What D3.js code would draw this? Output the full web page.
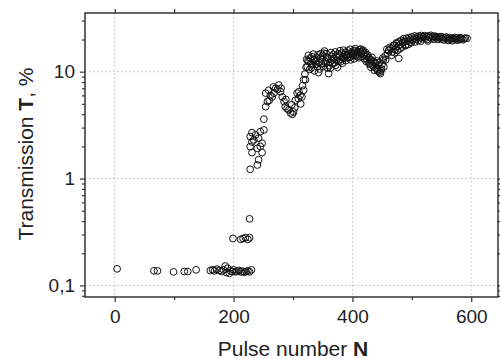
<!DOCTYPE html>
<html>
<head>
<meta charset="utf-8">
<script src="https://cdn.jsdelivr.net/npm/d3@7"></script>
<style>
  body { margin: 0; background: #fff; }
  svg { display: block; font-family: "Liberation Sans", Arial, Helvetica, sans-serif; }
</style>
</head>
<body>
<svg id="chart" width="500" height="359"></svg>
<script>
// [pulse number N, transmission T %]
const baseline = [
  [4, 0.143], [66, 0.137], [72, 0.137], [99, 0.134], [117, 0.135], [123, 0.135], [137, 0.14],
  [161, 0.138], [165, 0.14], [168, 0.137], [172, 0.142], [176, 0.138], [180, 0.135], [183, 0.14],
  [186, 0.152], [188, 0.132], [190, 0.145], [193, 0.13], [195, 0.137], [198, 0.135], [200, 0.14],
  [203, 0.134], [206, 0.136], [209, 0.138], [212, 0.134], [215, 0.136], [218, 0.133], [221, 0.135],
  [224, 0.137], [227, 0.134], [230, 0.14]
];
const jump = [
  [199, 0.275], [212, 0.27], [216, 0.275], [220, 0.28], [224, 0.27], [227, 0.28], [227, 0.42]
];
const rise = [
  [228, 1.22], [240, 1.34], [242, 1.5], [231, 1.75], [248, 1.75], [228, 1.99], [240, 1.92],
  [231, 2.2], [248, 2.14], [228, 2.47], [242, 2.39], [231, 2.69], [245, 2.75], [251, 2.85],
  [237, 2.56], [234, 2.3], [245, 2.0], [251, 3.6]
];
const hump = [
  [254, 4.7], [257, 5.25], [254, 6.3], [259, 6.7], [265, 5.8], [271, 7.0], [276, 7.5], [268, 6.3],
  [279, 6.5], [282, 5.8], [285, 5.25], [287, 4.7], [293, 4.4], [296, 4.1], [301, 4.2], [298, 4.9],
  [304, 5.4], [307, 6.3], [313, 5.0], [310, 6.5], [315, 5.8], [318, 6.7], [262, 6.0], [274, 6.8],
  [290, 4.5], [299, 4.0], [309, 5.6], [321, 8.4], [260, 5.4], [267, 7.2], [280, 7.0], [288, 5.5],
  [303, 4.6], [312, 6.0], [316, 7.4]
];
const band = [
  [318, 8.4], [320, 9.5], [322, 11.0], [324, 11.1], [325, 12.6], [327, 12.4], [328, 10.5], [330, 12.0],
  [332, 13.8], [333, 11.6], [335, 12.8], [336, 10.2], [338, 12.4], [340, 13.5], [341, 11.1], [343, 9.8],
  [344, 12.2], [346, 13.3], [348, 11.8], [350, 14.2], [352, 14.9], [354, 12.5], [355, 12.0], [357, 13.6],
  [358, 10.8], [360, 9.6], [362, 12.2], [363, 10.8], [365, 13.9], [366, 12.9], [368, 14.5], [370, 12.1],
  [372, 11.5], [374, 13.8], [376, 14.6], [377, 12.6], [380, 12.4], [382, 14.9], [384, 13.7], [386, 13.3],
  [388, 15.2], [390, 14.1], [391, 14.3], [393, 15.6], [395, 13.6], [397, 12.9], [399, 15.0], [400, 14.4],
  [402, 14.9], [404, 15.8], [406, 14.2], [408, 13.8], [410, 15.4], [412, 16.0], [413, 15.4], [415, 14.8],
  [417, 15.6], [419, 14.3], [420, 13.2], [422, 15.1], [424, 14.0], [425, 12.9], [427, 13.5], [428, 11.8],
  [430, 12.0], [432, 12.9], [434, 11.5], [436, 11.1], [438, 12.2], [440, 10.8], [442, 10.4], [444, 11.4],
  [446, 9.9], [447, 9.6], [449, 10.6], [450, 11.8], [452, 12.9], [453, 11.1], [455, 14.0], [456, 12.9],
  [458, 16.2], [459, 14.9], [461, 15.8], [463, 16.9], [465, 16.5], [467, 15.3], [469, 17.5], [470, 17.7],
  [472, 16.2], [474, 18.6], [475, 18.4], [477, 17.3], [479, 19.2],
  [466, 14.2], [471, 15.0], [476, 15.8], [478, 13.3], [480, 16.4], [484, 17.0], [489, 17.5], [494, 18.0],
  [499, 18.6], [506, 19.0], [515, 19.3], [527, 19.4]
];
const bandExtra = [
  [323, 13.0], [326, 14.2], [329, 13.4], [331, 10.9], [334, 14.6], [337, 13.1], [339, 11.7], [342, 14.4],
  [345, 10.6], [347, 14.8], [349, 12.9], [351, 11.2], [353, 15.6], [356, 14.7], [359, 13.3], [361, 11.4],
  [364, 15.1], [367, 11.9], [369, 13.4], [371, 15.3], [373, 12.8], [375, 11.0], [378, 14.1], [379, 15.7],
  [381, 13.1], [383, 12.0], [385, 15.9], [387, 14.4], [389, 12.7], [392, 13.5], [394, 14.8], [396, 16.2],
  [398, 13.9], [401, 15.6], [403, 13.2], [405, 16.4], [407, 15.0], [409, 14.6], [411, 13.5], [414, 16.3],
  [416, 13.9], [418, 15.9], [421, 14.6], [423, 12.5], [426, 14.3], [429, 13.0], [431, 11.0], [433, 13.6],
  [435, 12.4], [437, 10.3], [439, 11.9], [441, 12.6], [443, 10.1], [445, 12.2], [448, 10.2], [451, 13.4]
];
const plateau = [
  [481, 18.0], [483, 19.6], [485, 18.8], [486, 20.3], [488, 19.1], [490, 17.8], [491, 20.5], [493, 19.4],
  [495, 20.8], [497, 18.9], [498, 20.1], [500, 21.2], [502, 19.9], [504, 20.6], [505, 21.6], [507, 20.2],
  [509, 21.1], [511, 19.6], [512, 21.5], [514, 20.8], [516, 21.8], [518, 20.4], [519, 21.2], [521, 21.7],
  [523, 20.6], [525, 21.4], [526, 20.0], [528, 21.6], [530, 20.9], [532, 21.9], [533, 20.5], [535, 21.3],
  [537, 20.1], [539, 21.5], [540, 20.8], [542, 21.2], [544, 20.0], [546, 21.0], [547, 20.5], [549, 21.3],
  [551, 20.2], [553, 20.9], [554, 19.8], [556, 20.7], [558, 21.1], [560, 20.3], [561, 19.6], [563, 20.8],
  [565, 20.1], [567, 20.6], [568, 19.5], [570, 20.4], [572, 20.9], [574, 20.0], [575, 20.6], [577, 19.7],
  [579, 20.3], [581, 20.8], [582, 20.1], [584, 20.5], [586, 19.9], [588, 20.4], [590, 20.6], [593, 20.5]
];

const xTicks = [0, 200, 400, 600];
const xMinor = [100, 300, 500];
const yTicks = [0.1, 1, 10];
const yLabels = ['0,1', '1', '10'];

const points = [].concat(baseline, jump, rise, hump, band, bandExtra, plateau);

const svg = d3.select('#chart');
const plot = { left: 85, right: 498, top: 13, bottom: 297 };

const x = d3.scaleLinear().domain([-50, 645]).range([plot.left, plot.right]);
const y = d3.scaleLog().domain([0.078, 35.4]).range([plot.bottom, plot.top]);

const yMinor = [];
for (let e = -2; e <= 1; e++) {
  for (let k = 2; k <= 9; k++) {
    const v = k * Math.pow(10, e);
    if (v > 0.078 && v < 35.4) yMinor.push(v);
  }
}

// grid
const grid = svg.append('g').attr('stroke', '#b8b8b8').attr('stroke-width', 1).attr('stroke-dasharray', '1.5,2.5');
xTicks.forEach(function(t) {
  grid.append('line').attr('x1', x(t)).attr('x2', x(t)).attr('y1', plot.top).attr('y2', plot.bottom);
});
yTicks.forEach(function(t) {
  grid.append('line').attr('x1', plot.left).attr('x2', plot.right).attr('y1', y(t)).attr('y2', y(t));
});

// points
svg.append('g')
  .selectAll('circle')
  .data(points)
  .join('circle')
  .attr('cx', d => x(d[0]))
  .attr('cy', d => y(d[1]))
  .attr('r', 3.4)
  .attr('fill', 'none')
  .attr('stroke', '#111')
  .attr('stroke-width', 1);

// axes
const axisColor = '#333';
function styleAxis(g) {
  g.select('.domain').remove();
  g.selectAll('line').attr('stroke', axisColor).attr('stroke-width', 1.2);
}

svg.append('g').attr('transform', 'translate(0,' + plot.bottom + ')')
  .call(d3.axisBottom(x).tickValues(xTicks).tickSize(5).tickFormat(d3.format('d')))
  .call(styleAxis)
  .call(g => g.selectAll('text').attr('font-size', 19).attr('fill', '#222').attr('dy', '0.95em'));
svg.append('g').attr('transform', 'translate(0,' + plot.bottom + ')')
  .call(d3.axisBottom(x).tickValues(xMinor).tickSize(3).tickFormat(''))
  .call(styleAxis);
svg.append('g').attr('transform', 'translate(0,' + plot.top + ')')
  .call(d3.axisTop(x).tickValues(xTicks.concat(xMinor)).tickSize(4).tickFormat(''))
  .call(styleAxis);

svg.append('g').attr('transform', 'translate(' + plot.left + ',0)')
  .call(d3.axisLeft(y).tickValues(yTicks).tickSize(5).tickPadding(5).tickFormat((d, i) => yLabels[i]))
  .call(styleAxis)
  .call(g => g.selectAll('text').attr('font-size', 19).attr('fill', '#222'));
svg.append('g').attr('transform', 'translate(' + plot.left + ',0)')
  .call(d3.axisLeft(y).tickValues(yMinor).tickSize(3).tickFormat(''))
  .call(styleAxis);
svg.append('g').attr('transform', 'translate(' + plot.right + ',0)')
  .call(d3.axisRight(y).tickValues(yTicks).tickSize(5).tickFormat(''))
  .call(styleAxis);
svg.append('g').attr('transform', 'translate(' + plot.right + ',0)')
  .call(d3.axisRight(y).tickValues(yMinor).tickSize(3).tickFormat(''))
  .call(styleAxis);

// frame
svg.append('rect')
  .attr('x', plot.left).attr('y', plot.top)
  .attr('width', plot.right - plot.left).attr('height', plot.bottom - plot.top)
  .attr('fill', 'none').attr('stroke', axisColor).attr('stroke-width', 1.5);

// titles
const xt = svg.append('text')
  .attr('x', 293).attr('y', 356)
  .attr('text-anchor', 'middle').attr('font-size', 21).attr('fill', '#222');
xt.append('tspan').text('Pulse number ');
xt.append('tspan').attr('font-weight', 'bold').text('N');

const yt = svg.append('text')
  .attr('transform', 'translate(33,154) rotate(-90)')
  .attr('text-anchor', 'middle').attr('font-size', 21).attr('fill', '#222');
yt.append('tspan').text('Transmission ');
yt.append('tspan').attr('font-weight', 'bold').text('T');
yt.append('tspan').text(', %');
</script>
</body>
</html>
